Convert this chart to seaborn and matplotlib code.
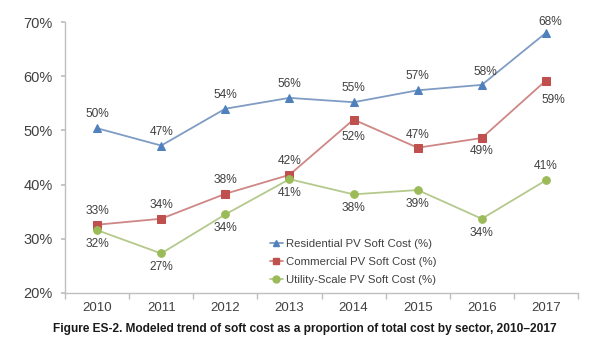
import matplotlib
matplotlib.use("Agg")
import matplotlib.pyplot as plt
import seaborn as sns
import pandas as pd
from matplotlib.lines import Line2D

years = ["2010", "2011", "2012", "2013", "2014", "2015", "2016", "2017"]
residential = [50.4, 47.2, 54.0, 56.0, 55.2, 57.4, 58.4, 68.0]
commercial = [32.6, 33.7, 38.3, 41.8, 52.0, 46.8, 48.6, 59.2]
utility = [31.6, 27.3, 34.5, 41.0, 38.2, 39.0, 33.7, 40.8]
series_names = ["Residential PV Soft Cost (%)", "Commercial PV Soft Cost (%)",
                "Utility-Scale PV Soft Cost (%)"]
label_texts = {
    series_names[0]: ["50%", "47%", "54%", "56%", "55%", "57%", "58%", "68%"],
    series_names[1]: ["33%", "34%", "38%", "42%", "52%", "47%", "49%", "59%"],
    series_names[2]: ["32%", "27%", "34%", "41%", "38%", "39%", "34%", "41%"],
}
yticks = [20, 30, 40, 50, 60, 70]
caption = "Figure ES-2. Modeled trend of soft cost as a proportion of total cost by sector, 2010\u20132017"

# styling
colors = {series_names[0]: "#4F81BD", series_names[1]: "#C0504D", series_names[2]: "#9BBB59"}
line_colors = {series_names[0]: "#7F9CC4", series_names[1]: "#CE8785", series_names[2]: "#B5C98C"}
markers = {series_names[0]: "^", series_names[1]: "s", series_names[2]: "o"}
msizes = {series_names[0]: 6, series_names[1]: 5.5, series_names[2]: 5.5}
# label offsets in pixels (dx, dy)
label_off = {
    series_names[0]: [(0, 14), (0, 14), (0, 14), (0, 14), (0, 14), (0, 14), (4, 13), (4, 11)],
    series_names[1]: [(0, 14), (0, 14), (0, 14), (0, 14), (0, -17), (0, 13), (0, -13), (7, -19)],
    series_names[2]: [(0, -14), (0, -14), (0, -14), (0, -14), (0, -14), (0, -14), (0, -14), (0, 14)],
}

df = pd.DataFrame({
    "year": years * 3,
    "value": residential + commercial + utility,
    "series": [series_names[0]] * 8 + [series_names[1]] * 8 + [series_names[2]] * 8,
})

sns.set_theme(style="white")
plt.rcParams["font.family"] = ["Liberation Sans", "DejaVu Sans"]

fig = plt.figure(figsize=(6.0, 3.39), dpi=100)
ax = fig.add_axes([65 / 600, 1 - 293 / 339, (578 - 65) / 600, (293 - 22) / 339])

for name in series_names:
    sub = df[df["series"] == name]
    sns.lineplot(data=sub, x="year", y="value", ax=ax, color=line_colors[name],
                 linewidth=1.3, marker=markers[name], markersize=msizes[name],
                 markerfacecolor=colors[name], markeredgecolor=colors[name],
                 label=name, legend=False)

for name in series_names:
    sub = df[df["series"] == name].reset_index(drop=True)
    for i, row in sub.iterrows():
        dx, dy = label_off[name][i]
        ax.annotate(label_texts[name][i], (i, row["value"]), xytext=(dx, dy),
                    textcoords="offset pixels", ha="center", va="center",
                    fontsize=8.6, color="#404040")

ax.set_xlim(-0.5, len(years) - 0.5)
ax.set_ylim(20, 70)
ax.set_yticks(yticks)
ax.set_yticklabels([f"{t}%" for t in yticks], fontsize=10.5, color="#404040")
ax.set_xticks(range(len(years)))
ax.set_xticklabels(years, fontsize=9.5, color="#404040")
ax.set_xticks([i + 0.5 for i in range(-1, len(years))], minor=True)
ax.tick_params(axis="x", which="major", length=0, pad=6.5)
ax.tick_params(axis="x", which="minor", length=4, color="#BFBFBF", direction="out", bottom=True)
ax.tick_params(axis="y", length=3, color="#BFBFBF", direction="out", left=True, pad=6)
ax.set_xlabel("")
ax.set_ylabel("")
for s in ["top", "right"]:
    ax.spines[s].set_visible(False)
for s in ["left", "bottom"]:
    ax.spines[s].set_color("#BFBFBF")
    ax.spines[s].set_linewidth(1.0)

handles = [Line2D([0], [0], color=line_colors[n], marker=markers[n], markersize=5,
                  markerfacecolor=colors[n], markeredgecolor=colors[n], linewidth=1.3)
           for n in series_names]
leg = ax.legend(handles, series_names, loc="upper left", bbox_to_anchor=(0.39, 0.215),
                frameon=False, fontsize=8.2, handlelength=1.2, handletextpad=0.2,
                labelspacing=0.7, borderaxespad=0)
for t in leg.get_texts():
    t.set_color("#404040")

fig.text(53 / 600, 1 - 329 / 339, caption, fontsize=8.6, fontweight="bold",
         color="#1a1a1a", ha="left", va="center")

fig.savefig("out.png", dpi=100, facecolor="white")
